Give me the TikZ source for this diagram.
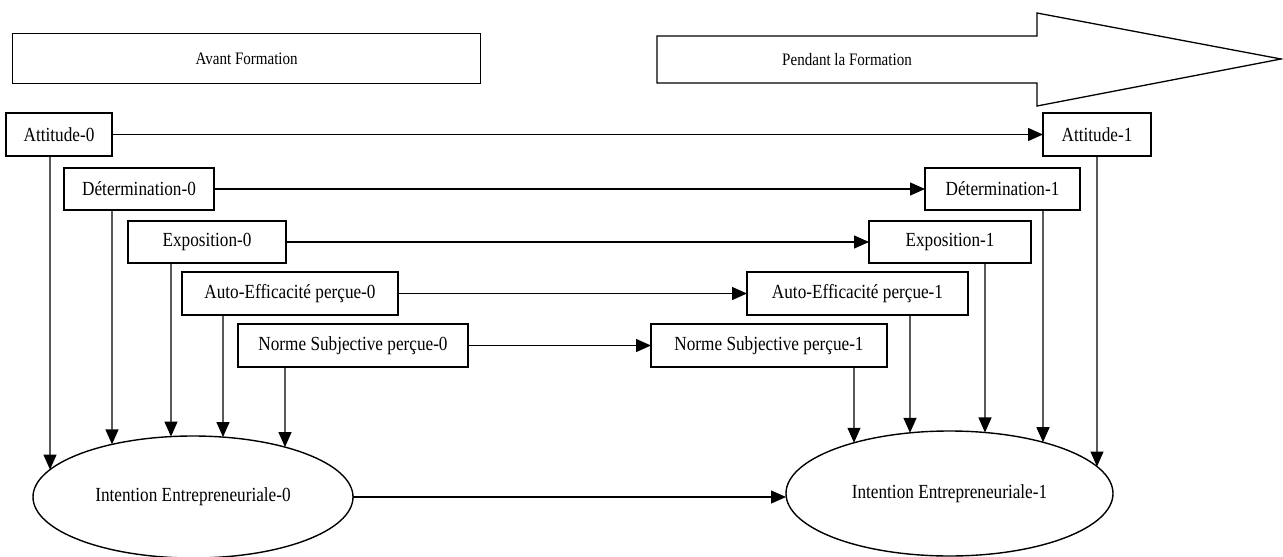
\documentclass[tikz,border=0pt]{standalone}
\usepackage{fontspec}
\setmainfont{Liberation Serif}[FakeStretch=0.86]
\usetikzlibrary{arrows.meta,shapes.geometric,calc,intersections}
\begin{document}
\begin{tikzpicture}[x=1pt,y=-1pt,
  box/.style={draw,line width=1.3pt,rectangle,inner sep=0pt,outer sep=0pt,anchor=north west,font=\fontsize{20}{24}\selectfont},
  ell/.style={draw,line width=1.4pt,ellipse,inner sep=0pt,outer sep=0pt,font=\fontsize{20}{24}\selectfont},
  banner/.style={draw,line width=1.3pt,font=\fontsize{17.5}{21}\selectfont},
  arr/.style={line width=1.3pt,-{Triangle[length=15pt,width=13pt]}}]
\useasboundingbox (0,0) rectangle (1283,557);
% banners
\node[banner,rectangle,inner sep=0pt,anchor=north west,minimum width=468pt,minimum height=50pt] (avant) at (12,33) {Avant Formation};
\draw[line width=1.3pt,line join=miter] (657,36) coordinate (p1) -- (1037,36) -- (1037,13) -- (1281,59) coordinate (tip) -- (1037,106) -- (1037,83) -- (657,83) -- cycle;
\node[font=\fontsize{17.5}{21}\selectfont] (pendant) at (847,60) {Pendant la Formation};
% boxes
\node[box,minimum width=106pt,minimum height=43pt] (att0) at (6,113) {Attitude-0};
\node[box,minimum width=108pt,minimum height=43pt] (att1) at (1043,113) {Attitude-1};
\node[box,minimum width=150pt,minimum height=42pt] (det0) at (64,168) {Détermination-0};
\node[box,minimum width=155pt,minimum height=42pt] (det1) at (925,168) {Détermination-1};
\node[box,minimum width=158pt,minimum height=42pt] (expo0) at (128,221) {Exposition-0};
\node[box,minimum width=162pt,minimum height=42pt] (expo1) at (869,221) {Exposition-1};
\node[box,minimum width=216pt,minimum height=43pt] (auto0) at (182,272) {Auto-Efficacité perçue-0};
\node[box,minimum width=221pt,minimum height=43pt] (auto1) at (747,272) {Auto-Efficacité perçue-1};
\node[box,minimum width=230pt,minimum height=43pt] (norme0) at (238,324) {Norme Subjective perçue-0};
\node[box,minimum width=236pt,minimum height=43pt] (norme1) at (651,324) {Norme Subjective perçue-1};
% ellipses
\node[ell,minimum width=320pt,minimum height=122pt] (ie0) at (193,497) {Intention Entrepreneuriale-0};
\node[ell,minimum width=327pt,minimum height=125pt] (ie1) at (949.5,493.5) {Intention Entrepreneuriale-1};
\path[name path=E0] (193,497) ellipse [x radius=160, y radius=61];
\path[name path=E1] (949.5,493.5) ellipse [x radius=163.5, y radius=62.5];
% horizontal connectors
\draw[arr] (att0) -- (att1);
\draw[arr] (det0) -- (det1);
\draw[arr] (expo0) -- (expo1);
\draw[arr] (auto0) -- (auto1);
\draw[arr] (norme0) -- (norme1);
\draw[arr] (ie0.east) -- (ie0.east -| ie1.west);
% vertical connectors
\foreach \s/\dx/\e in {att0/44/E0,det0/48/E0,expo0/43/E0,auto0/41/E0,norme0/47/E0,norme1/203/E1,auto1/163/E1,expo1/116/E1,det1/118/E1,att1/54/E1}{
  \path[name path=vl] ($(\s.south west)+(\dx,0)$) -- ++(0,420);
  \draw[arr,name intersections={of=vl and \e,sort by=vl}] ($(\s.south west)+(\dx,0)$) -- (intersection-1);
}
\end{tikzpicture}
\end{document}
